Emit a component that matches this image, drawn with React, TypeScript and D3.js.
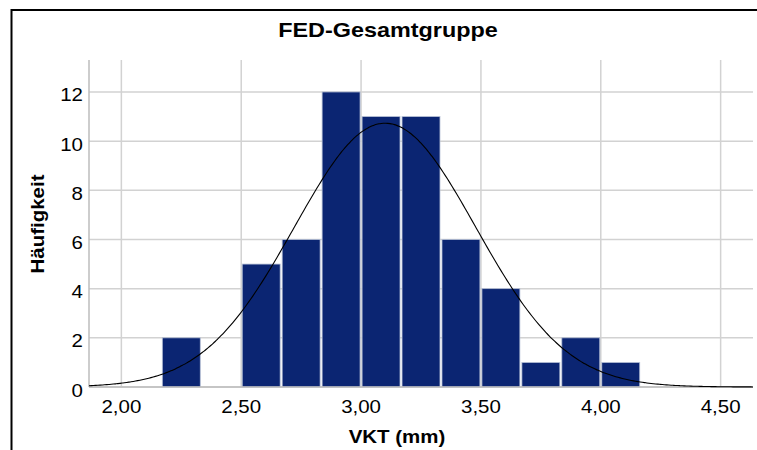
import React from "react";
import * as d3 from "d3";

// Histogram of VKT (mm) with fitted normal curve
const title = "FED-Gesamtgruppe";
const xTitle = "VKT (mm)";
const yTitle = "Häufigkeit";

// lower edge of each class and its frequency
const binStarts = [2.1667, 2.3333, 2.5, 2.6667, 2.8333, 3.0, 3.1667, 3.3333, 3.5, 3.6667, 3.8333, 4.0];
const counts = [2, 0, 5, 6, 12, 11, 11, 6, 4, 1, 2, 1];
const binWidth = 0.16667;

const xTicks = [2.0, 2.5, 3.0, 3.5, 4.0, 4.5];
const yTicks = [0, 2, 4, 6, 8, 10, 12];

// normal distribution parameters
const mean = 3.1;
const sd = 0.378;

const W = 757;
const H = 450;
const plot = { left: 89, right: 753, top: 60, bottom: 387 };
const FONT = "'Liberation Sans', Arial, Helvetica, sans-serif";
const SX = 1.17;

export default function App() {
  const x = d3.scaleLinear().domain([1.865, 4.635]).range([plot.left, plot.right]);
  const y = d3.scaleLinear().domain([0, 13.3]).range([plot.bottom, plot.top]);

  const n = d3.sum(counts);
  const density = (v: number) =>
    (n * binWidth) / (sd * Math.sqrt(2 * Math.PI)) * Math.exp(-0.5 * ((v - mean) / sd) ** 2);
  const [d0, d1] = x.domain();
  const curvePts = d3.range(0, 301).map((i) => {
    const v = d0 + ((d1 - d0) * i) / 300;
    return [v, density(v)] as [number, number];
  });
  const line = d3
    .line<[number, number]>()
    .x((d) => x(d[0]))
    .y((d) => y(d[1]))
    .curve(d3.curveBasis);

  const fmt = (v: number) => v.toFixed(2).replace(".", ",");

  return (
    <div style={{ position: "absolute", left: 0, top: 0 }}>
      <svg width={W} height={H} style={{ display: "block", background: "#fff" }}>
        <rect x={0} y={0} width={W} height={H} fill="#fff" />
        {/* outer frame */}
        <rect x={11.5} y={10} width={760} height={470} fill="none" stroke="#000" strokeWidth={2} />

        {/* title */}
        <text
          transform={`translate(388,37) scale(${SX},1)`}
          textAnchor="middle"
          fontFamily={FONT}
          fontWeight="bold"
          fontSize={20}
          fill="#000"
        >
          {title}
        </text>

        {/* grid */}
        {yTicks.map((t) => (
          <line key={"gy" + t} x1={plot.left} x2={plot.right} y1={y(t)} y2={y(t)} stroke="#d2d2d2" strokeWidth={1.5} />
        ))}
        {xTicks.map((t) => (
          <line key={"gx" + t} x1={x(t)} x2={x(t)} y1={plot.top} y2={plot.bottom} stroke="#d2d2d2" strokeWidth={1.5} />
        ))}

        {/* bars */}
        {binStarts.map((b, i) =>
          counts[i] > 0 ? (
            <rect
              key={"b" + i}
              x={x(b) + 1}
              y={y(counts[i])}
              width={x(b + binWidth) - x(b) - 2}
              height={y(0) - y(counts[i])}
              fill="#0b2572"
              stroke="#b7c1d6"
              strokeWidth={0.8}
            />
          ) : null
        )}

        {/* axes lines */}
        <line x1={plot.left} x2={plot.right} y1={plot.bottom} y2={plot.bottom} stroke="#bdbdbd" strokeWidth={1.5} />
        <line x1={plot.left} x2={plot.left} y1={plot.top} y2={plot.bottom} stroke="#bdbdbd" strokeWidth={1.5} />

        {/* normal curve */}
        <path d={line(curvePts) || ""} fill="none" stroke="#000" strokeWidth={1.1} />

        {/* y tick labels */}
        {yTicks.map((t) => (
          <text
            key={"ly" + t}
            transform={`translate(83,${y(t) + 9.5}) scale(${SX},1)`}
            textAnchor="end"
            fontFamily={FONT}
            fontSize={17.5}
            fill="#000"
          >
            {t}
          </text>
        ))}

        {/* x tick labels */}
        {xTicks.map((t) => (
          <text
            key={"lx" + t}
            transform={`translate(${x(t)},413) scale(${SX},1)`}
            textAnchor="middle"
            fontFamily={FONT}
            fontSize={17.5}
            fill="#000"
          >
            {fmt(t)}
          </text>
        ))}

        {/* axis titles */}
        <text
          transform={`translate(397,443) scale(${SX},1)`}
          textAnchor="middle"
          fontFamily={FONT}
          fontWeight="bold"
          fontSize={17.5}
          fill="#000"
        >
          {xTitle}
        </text>
        <text
          transform={`translate(44,224) rotate(-90) scale(${SX},1)`}
          textAnchor="middle"
          fontFamily={FONT}
          fontWeight="bold"
          fontSize={17.5}
          fill="#000"
        >
          {yTitle}
        </text>
      </svg>
    </div>
  );
}
